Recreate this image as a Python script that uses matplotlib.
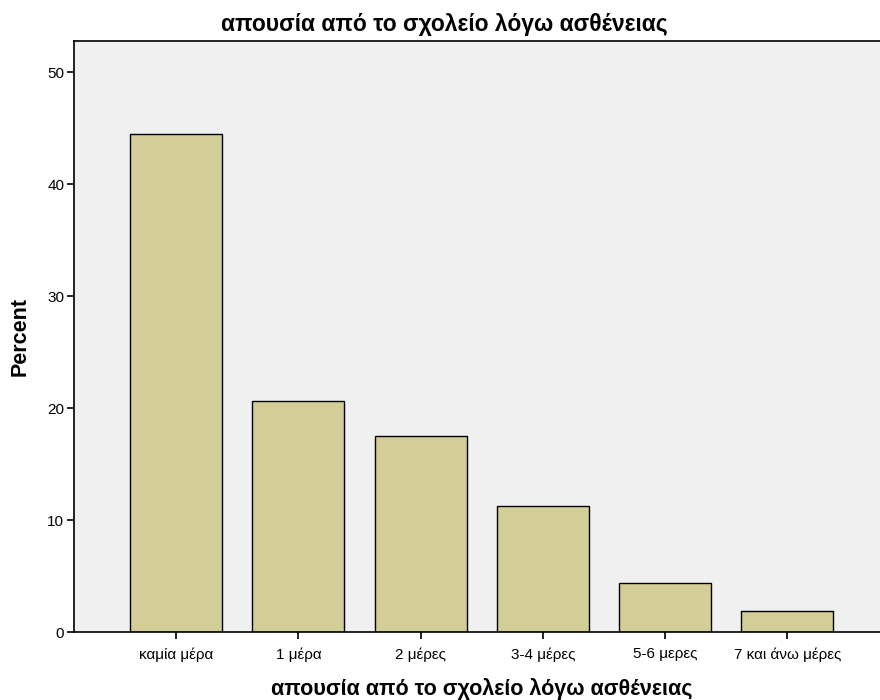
import matplotlib.pyplot as plt

plt.rcParams['font.family'] = ['Liberation Sans', 'DejaVu Sans']

# absence from school due to illness, percent of pupils
categories = ["καμία μέρα", "1 μέρα", "2 μέρες", "3-4 μέρες", "5-6 μερες", "7 και άνω μέρες"]
percent = [44.5, 20.6, 17.5, 11.3, 4.4, 1.9]

fig = plt.figure(figsize=(8.8, 7), dpi=100)
ax = fig.add_axes([74 / 880, 1 - 632 / 700, 1.01 - 74 / 880, (632 - 41) / 700])
ax.set_facecolor("#f0f0f0")

xs = range(len(categories))
ax.bar(xs, percent, width=0.753, color="#d3ce97", edgecolor="black", linewidth=1.0, zorder=2)

ax.set_xlim(-0.835, 5.83)
ax.set_ylim(0, 52.8)
ax.set_yticks([0, 10, 20, 30, 40, 50])
ax.set_xticks(list(xs))
ax.set_xticklabels(categories)
ax.tick_params(axis="both", direction="out", length=5, width=1.2, labelsize=11, color="black", pad=2)
ax.tick_params(axis="x", pad=6)

for s in ax.spines.values():
    s.set_linewidth(1.2)

ax.set_ylabel("Percent", fontsize=15.5, fontweight="bold", labelpad=12)
ax.set_xlabel("απουσία από το σχολείο λόγω ασθένειας", fontsize=15.5, fontweight="bold", labelpad=12)
fig.text(0.505, 1 - 24 / 700, "απουσία από το σχολείο λόγω ασθένειας", fontsize=16.5,
         fontweight="bold", ha="center", va="center")

fig.savefig("out.png", dpi=100)
